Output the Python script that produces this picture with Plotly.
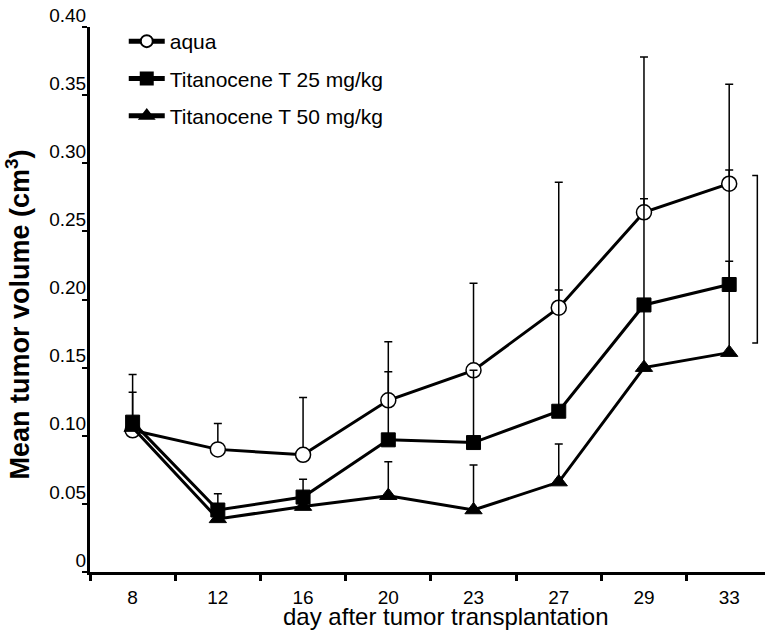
import plotly.graph_objects as go

days = ["8", "12", "16", "20", "23", "27", "29", "33"]

aqua = [0.104, 0.090, 0.086, 0.126, 0.148, 0.194, 0.264, 0.285]
aqua_err = [0.041, 0.019, 0.042, 0.043, 0.064, 0.092, 0.114, 0.073]

t25 = [0.110, 0.0455, 0.055, 0.097, 0.095, 0.118, 0.196, 0.211]
t25_err = [0.022, 0.012, 0.013, 0.050, 0.053, 0.089, 0.078, 0.084]

t50 = [0.106, 0.039, 0.048, 0.056, 0.0455, 0.066, 0.150, 0.161]
t50_err = [0.0, 0.006, 0.010, 0.025, 0.033, 0.028, 0.046, 0.067]

y_ticks = [0, 0.05, 0.10, 0.15, 0.20, 0.25, 0.30, 0.35, 0.40]
y_tick_text = ["0", "0.05", "0.10", "0.15", "0.20", "0.25", "0.30", "0.35", "0.40"]

FONT = "Liberation Sans, Arial, sans-serif"


def err(vals):
    return dict(type="data", array=vals, arrayminus=[0] * len(vals), symmetric=False,
                color="black", thickness=1.5, width=4)


fig = go.Figure()
fig.add_trace(go.Scatter(
    x=days, y=aqua, name="aqua", mode="lines+markers", legendrank=1,
    legendgroup="a", error_y=err(aqua_err),
    line=dict(color="black", width=3),
    marker=dict(symbol="circle", size=15, color="white", line=dict(color="black", width=1.5)),
))
fig.add_trace(go.Scatter(
    x=days, y=t50, name="Titanocene T 50 mg/kg", mode="lines+markers", legendrank=3,
    legendgroup="c", error_y=err(t50_err),
    line=dict(color="black", width=3),
    marker=dict(symbol="triangle-up", size=15, color="black", line=dict(color="black", width=1)),
))
fig.add_trace(go.Scatter(
    x=days, y=t25, name="Titanocene T 25 mg/kg", mode="lines+markers", legendrank=2,
    legendgroup="b", error_y=err(t25_err),
    line=dict(color="black", width=3),
    marker=dict(symbol="square", size=14, color="black", line=dict(color="black", width=1)),
))

# significance bracket on the right
fig.add_shape(type="path", xref="x", yref="y",
              path="M 7.27 0.291 L 7.33 0.291 L 7.33 0.168 L 7.27 0.168",
              line=dict(color="black", width=1.5))

fig.add_annotation(text="day after tumor transplantation", xref="paper", yref="paper",
                   x=0.527, y=-0.082, xanchor="center", yanchor="middle", showarrow=False,
                   font=dict(family=FONT, size=24, color="black"))
fig.add_annotation(text="<b>Mean tumor volume (cm<sup>3</sup>)</b>", xref="paper", yref="paper",
                   x=-0.107, y=0.472, xanchor="center", yanchor="middle", showarrow=False,
                   textangle=-90, font=dict(family=FONT, size=27, color="black"))

fig.update_layout(
    width=765, height=631,
    margin=dict(l=90, r=0, t=27, b=59),
    paper_bgcolor="white", plot_bgcolor="white",
    font=dict(family=FONT, color="black", size=19),
    showlegend=True,
    legend=dict(x=0.05, y=1.011, xanchor="left", yanchor="top", bgcolor="rgba(0,0,0,0)",
                font=dict(family=FONT, size=21), tracegroupgap=7, traceorder="grouped",
                itemwidth=36, itemsizing="constant"),
)
fig.update_xaxes(
    type="category", range=[-0.5, 7.42], showline=True, linecolor="black", linewidth=3,
    ticks="outside", tickson="boundaries", ticklen=6, tickwidth=3, tickcolor="black",
    showgrid=False, zeroline=False, ticklabelstandoff=6,
    tickfont=dict(family=FONT, size=19),
)
fig.update_yaxes(
    range=[0, 0.40], tickvals=y_ticks, ticktext=y_tick_text, showline=True,
    linecolor="black", linewidth=3, ticks="outside", ticklen=5, tickwidth=2,
    tickcolor="black", showgrid=False, zeroline=False, ticklabelshift=-12,
    ticklabelstandoff=-8, tickfont=dict(family=FONT, size=19),
)

fig.write_html("out.html", config={"displayModeBar": False},
               post_script="document.body.style.margin='0';")
